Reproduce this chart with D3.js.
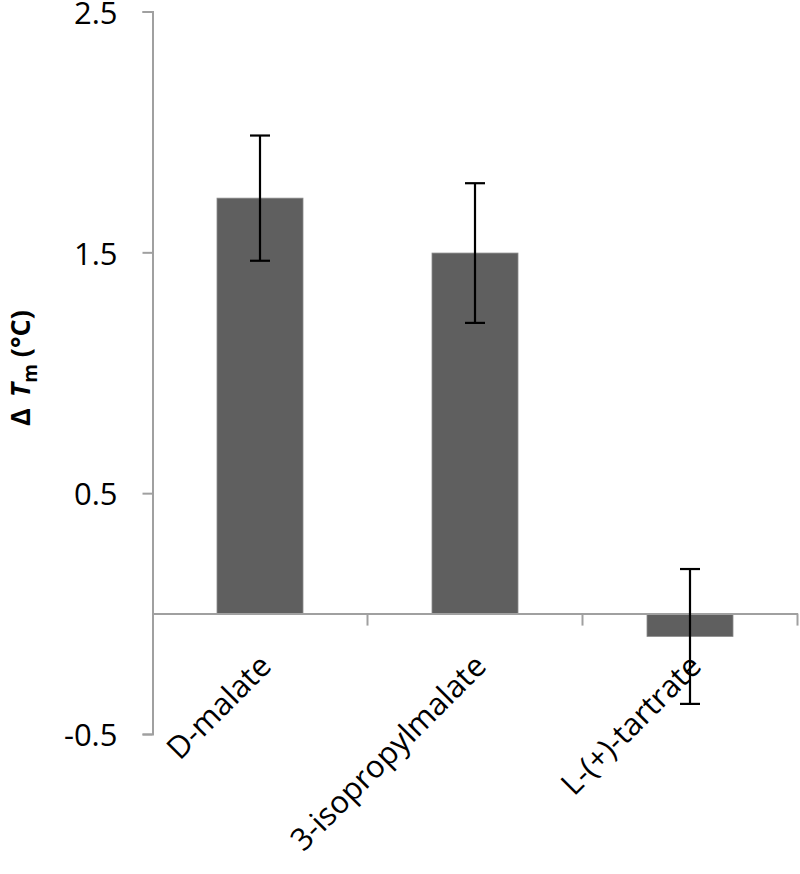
<!DOCTYPE html>
<html>
<head>
<meta charset="utf-8">
<script src="https://cdn.jsdelivr.net/npm/d3@7"></script>
<style>
  body { margin: 0; background: #fff; }
  text { font-family: "Open Sans", sans-serif; }
</style>
</head>
<body>
<div id="chart-area"></div>
<script>
// dane
const categories = ["D-malate", "3-isopropylmalate", "L-(+)-tartrate"];
const values = [1.725, 1.497, -0.095];
const errors = [0.26, 0.29, 0.28];
const yTicks = [-0.5, 0.5, 1.5, 2.5];

const svg = d3.select("#chart-area")
    .append("svg")
    .attr("width", 800)
    .attr("height", 874);

const y = d3.scaleLinear()
    .domain([-0.5, 2.5])
    .range([734, 11.5]);

const x = d3.scaleBand()
    .domain(categories)
    .range([152.5, 797.5])
    .padding(0);

const axisColor = "#a0a0a0";

// os y
const yAxis = svg.append("g")
    .attr("transform", "translate(152.5,0)")
    .call(d3.axisLeft(y)
        .tickValues(yTicks)
        .tickSize(10)
        .tickPadding(25)
        .tickFormat(d => d.toFixed(1)));
yAxis.select(".domain").attr("stroke", axisColor).attr("stroke-width", 2);
yAxis.selectAll(".tick line").attr("stroke", axisColor).attr("stroke-width", 2);
yAxis.selectAll(".tick text")
    .attr("fill", "#000")
    .attr("dy", "0.38em")
    .style("font-size", "31px")
    .style("font-family", "'Open Sans', sans-serif");

// slupki
const barW = x.bandwidth() * 0.4;
svg.selectAll("rect.bar")
    .data(values)
    .enter()
    .append("rect")
    .attr("class", "bar")
    .attr("x", (d, i) => x(categories[i]) + x.bandwidth() / 2 - barW / 2)
    .attr("y", d => y(Math.max(0, d)))
    .attr("width", barW)
    .attr("height", d => Math.abs(y(d) - y(0)))
    .attr("fill", "#5f5f5f")
    .attr("stroke", "#8a8a8a")
    .attr("stroke-width", 0.8);

// os x (linia zera)
const xAxis = svg.append("g")
    .attr("transform", `translate(0,${y(0)})`)
    .call(d3.axisBottom(x).tickSize(0).tickSizeOuter(0).tickFormat(""));
xAxis.select(".domain").attr("stroke", axisColor).attr("stroke-width", 2);

svg.selectAll("line.xtick")
    .data(categories)
    .enter()
    .append("line")
    .attr("class", "xtick")
    .attr("x1", d => x(d) + x.step())
    .attr("x2", d => x(d) + x.step())
    .attr("y1", y(0))
    .attr("y2", y(0) + 12)
    .attr("stroke", axisColor)
    .attr("stroke-width", 2);

// slupki bledow
const cap = 10;
const eb = svg.selectAll("g.err")
    .data(values)
    .enter()
    .append("g")
    .attr("class", "err")
    .attr("stroke", "#000")
    .attr("stroke-width", 2.2);
eb.append("line")
    .attr("x1", (d, i) => x(categories[i]) + x.bandwidth() / 2)
    .attr("x2", (d, i) => x(categories[i]) + x.bandwidth() / 2)
    .attr("y1", (d, i) => y(d + errors[i]))
    .attr("y2", (d, i) => y(d - errors[i]));
eb.append("line")
    .attr("x1", (d, i) => x(categories[i]) + x.bandwidth() / 2 - cap)
    .attr("x2", (d, i) => x(categories[i]) + x.bandwidth() / 2 + cap)
    .attr("y1", (d, i) => y(d + errors[i]))
    .attr("y2", (d, i) => y(d + errors[i]));
eb.append("line")
    .attr("x1", (d, i) => x(categories[i]) + x.bandwidth() / 2 - cap)
    .attr("x2", (d, i) => x(categories[i]) + x.bandwidth() / 2 + cap)
    .attr("y1", (d, i) => y(d - errors[i]))
    .attr("y2", (d, i) => y(d - errors[i]));

// etykiety kategorii obrocone o 45 stopni
svg.selectAll("text.cat")
    .data(categories)
    .enter()
    .append("text")
    .attr("class", "cat")
    .attr("text-anchor", "end")
    .attr("transform", d => `translate(${x(d) + x.bandwidth() / 2 + 13},668) rotate(-45)`)
    .style("font-size", "31px")
    .attr("fill", "#000")
    .text(d => d);

// opis osi y
const yLabel = svg.append("text")
    .attr("transform", "translate(30,368) rotate(-90)")
    .attr("text-anchor", "middle")
    .style("font-size", "27px")
    .style("font-weight", "bold")
    .attr("fill", "#000");
yLabel.append("tspan").text("Δ ");
yLabel.append("tspan").attr("dx", 4).style("font-style", "italic").text("T");
yLabel.append("tspan").attr("dy", 7).style("font-size", "19px").text("m");
yLabel.append("tspan").attr("dy", -7).text(" (°C)");
</script>
</body>
</html>
